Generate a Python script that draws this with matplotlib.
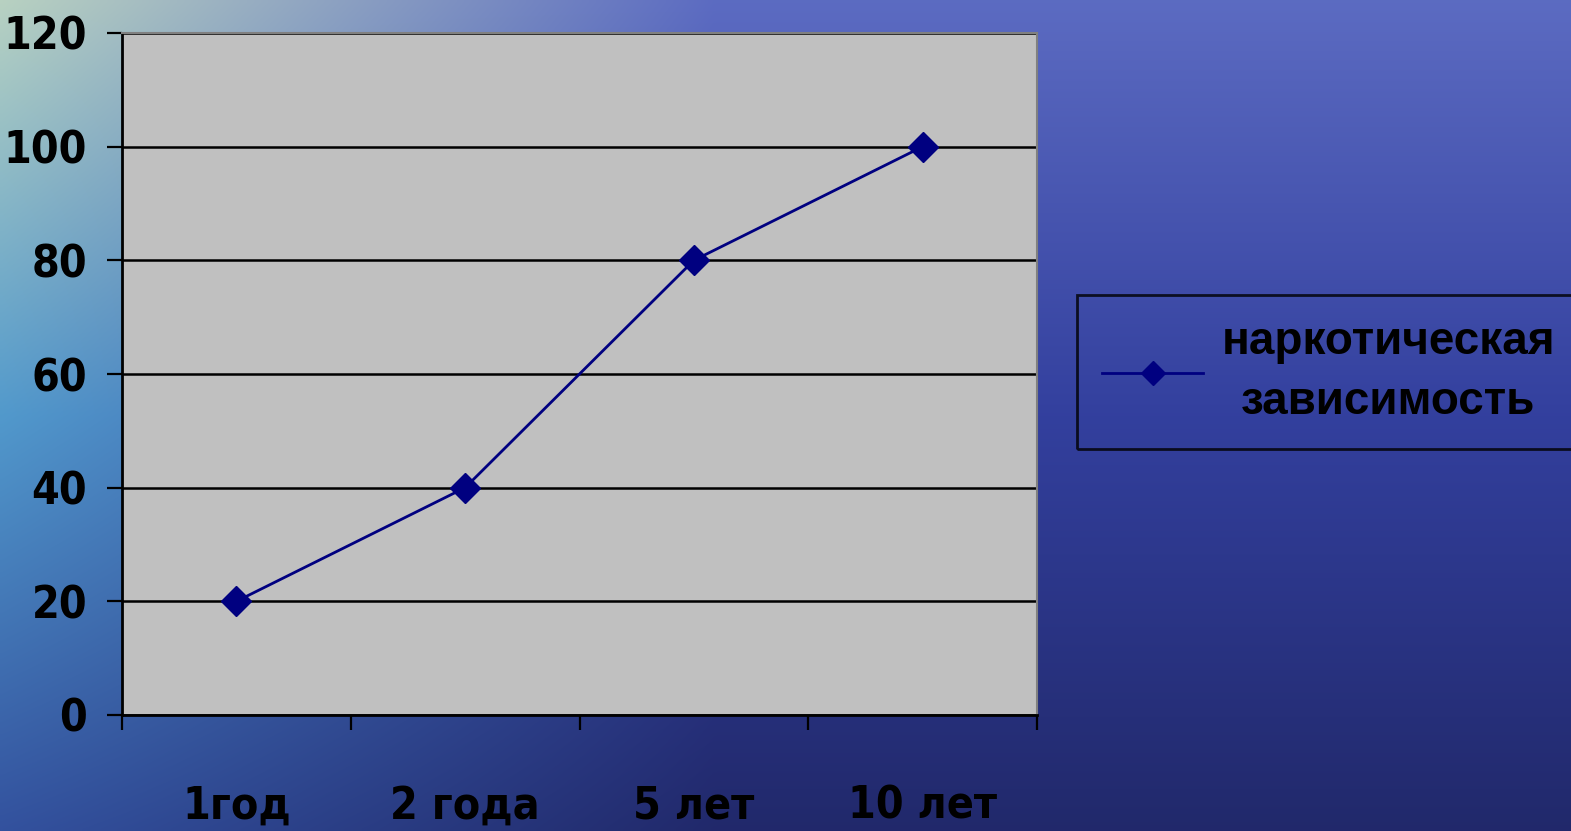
import numpy as np
import matplotlib.pyplot as plt
from matplotlib import font_manager

categories = ["1год", "2 года", "5 лет", "10 лет"]
values = [20, 40, 80, 100]
series_name = "наркотическая\nзависимость"
y_ticks = [0, 20, 40, 60, 80, 100, 120]

# look for a bold condensed face (the chart uses an Arial Narrow look)
narrow_file = None
for f in font_manager.fontManager.ttflist:
    fn = f.fname.lower()
    if ('condensed' in fn or 'narrow' in fn) and 'bold' in fn and 'oblique' not in fn and 'italic' not in fn:
        narrow_file = f.fname
        break
if narrow_file:
    tick_font = font_manager.FontProperties(fname=narrow_file, size=32)
else:
    tick_font = font_manager.FontProperties(family=['Roboto', 'DejaVu Sans'], weight='bold', size=31)

W, H = 1571, 831
fig = plt.figure(figsize=(W / 100, H / 100), dpi=100)

# sea-like background gradient
bg = fig.add_axes([0, 0, 1, 1])
yy, xx = np.mgrid[0:1:200j, 0:1:380j]
tl = np.array([0.72, 0.82, 0.76])
ml = np.array([0.32, 0.60, 0.80])
bl = np.array([0.20, 0.32, 0.62])
tr = np.array([0.36, 0.42, 0.76])
mr = np.array([0.20, 0.25, 0.62])
br = np.array([0.13, 0.16, 0.42])
def lerp3(a, b, c, t):
    t = t[..., None]
    return np.where(t < 0.5, a + (b - a) * (t / 0.5), b + (c - b) * ((t - 0.5) / 0.5))
left = lerp3(tl, ml, bl, yy)
right = lerp3(tr, mr, br, yy)
wx = np.clip(xx * 2.2, 0, 1)[..., None]
img = left * (1 - wx) + right * wx
bg.imshow(np.clip(img, 0, 1), aspect='auto', extent=[0, 1, 0, 1], interpolation='bilinear')
bg.axis('off')

ax = fig.add_axes([122 / W, 1 - 715 / H, (1037 - 122) / W, (715 - 33) / H])
ax.set_facecolor('#c0c0c0')
x = np.arange(len(categories))
ax.plot(x, values, color='#000080', lw=2, marker='D', markersize=15,
        markerfacecolor='#000080', markeredgecolor='#000080', label=series_name, zorder=3)

ax.set_xlim(-0.5, len(categories) - 0.5)
ax.set_ylim(0, 120)
ax.set_yticks(y_ticks)
ax.set_yticklabels([str(v) for v in y_ticks], fontproperties=tick_font)
ax.set_xticks(np.arange(len(categories) + 1) - 0.5)
ax.set_xticklabels([])
ax.set_xticks(x, minor=True)
ax.set_xticklabels(categories, minor=True, fontproperties=tick_font)
ax.tick_params(axis='x', which='minor', length=0, pad=50)
ax.tick_params(axis='x', which='major', length=11, width=1.6, direction='out')
ax.tick_params(axis='y', length=11, width=1.6, direction='out', pad=14)
ax.grid(axis='y', color='black', lw=1.8)
ax.set_axisbelow(True)
for s in ['left', 'bottom']:
    ax.spines[s].set_linewidth(2)
    ax.spines[s].set_color('black')
for s in ['top', 'right']:
    ax.spines[s].set_linewidth(1.5)
    ax.spines[s].set_color('#808080')

leg = fig.legend(loc='center left', bbox_to_anchor=(1077 / W, 1 - 372 / H),
                 prop={'family': ['Liberation Sans', 'DejaVu Sans'], 'weight': 'bold', 'size': 33},
                 frameon=True, fancybox=False, handlelength=2.2, borderpad=0.55,
                 handletextpad=0.4, borderaxespad=0, markerscale=0.8)
leg.get_frame().set_facecolor('none')
leg.get_frame().set_edgecolor('black')
leg.get_frame().set_linewidth(2)
for t in leg.get_texts():
    t.set_multialignment('center')
    t.set_linespacing(1.45)

fig.savefig('out.png', dpi=100)
